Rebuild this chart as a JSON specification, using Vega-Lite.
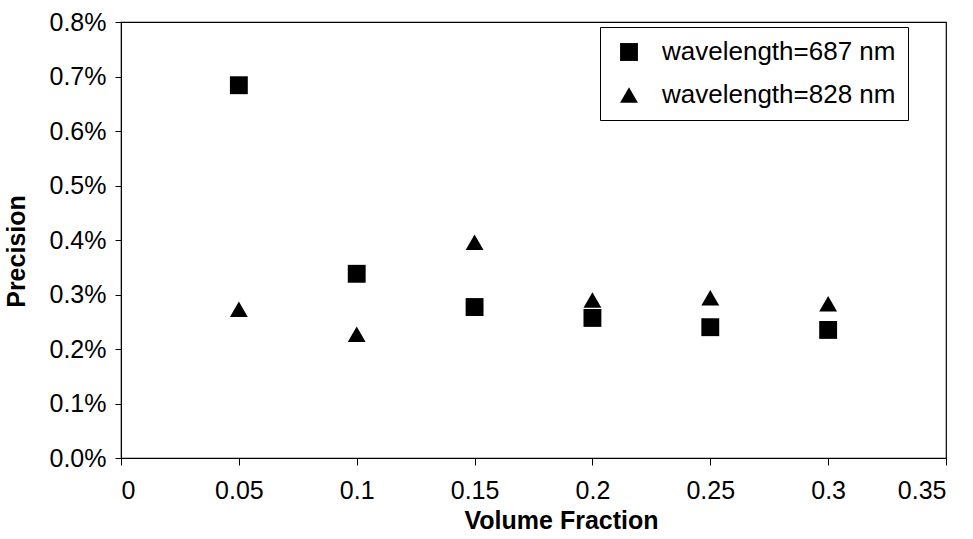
{
  "$schema": "https://vega.github.io/schema/vega-lite/v6.json",
  "autosize": "none",
  "width": 825,
  "height": 436,
  "padding": {"left": 121, "top": 22, "right": 27, "bottom": 81},
  "background": "white",
  "config": {
    "font": "Liberation Sans",
    "view": {"stroke": "black", "strokeWidth": 1.2},
    "axis": {
      "grid": false,
      "domainColor": "black",
      "tickColor": "black",
      "labelColor": "black",
      "titleColor": "black",
      "labelFont": "Liberation Sans",
      "titleFont": "Liberation Sans",
      "labelFontSize": 25,
      "titleFontSize": 25,
      "titleFontWeight": "bold",
      "tickSize": 7
    }
  },
  "data": {
    "values": [
      {"fraction": 0.05, "precision": 0.00684, "series": "wavelength=687 nm"},
      {"fraction": 0.1, "precision": 0.00338, "series": "wavelength=687 nm"},
      {"fraction": 0.15, "precision": 0.00277, "series": "wavelength=687 nm"},
      {"fraction": 0.2, "precision": 0.00257, "series": "wavelength=687 nm"},
      {"fraction": 0.25, "precision": 0.0024, "series": "wavelength=687 nm"},
      {"fraction": 0.3, "precision": 0.00235, "series": "wavelength=687 nm"},
      {"fraction": 0.05, "precision": 0.00273, "series": "wavelength=828 nm"},
      {"fraction": 0.1, "precision": 0.00227, "series": "wavelength=828 nm"},
      {"fraction": 0.15, "precision": 0.00396, "series": "wavelength=828 nm"},
      {"fraction": 0.2, "precision": 0.0029, "series": "wavelength=828 nm"},
      {"fraction": 0.25, "precision": 0.00294, "series": "wavelength=828 nm"},
      {"fraction": 0.3, "precision": 0.00283, "series": "wavelength=828 nm"}
    ]
  },
  "mark": {"type": "point", "filled": true, "color": "black", "opacity": 1, "size": 320},
  "encoding": {
    "x": {
      "field": "fraction",
      "type": "quantitative",
      "scale": {"domain": [0, 0.35], "nice": false, "zero": true},
      "axis": {
        "title": "Volume Fraction",
        "values": [0, 0.05, 0.1, 0.15, 0.2, 0.25, 0.3, 0.35],
        "format": "~g",
        "labelPadding": 13,
        "titleX": 440,
        "titleY": 62,
        "titleBaseline": "middle",
        "titleAlign": "center"
      }
    },
    "y": {
      "field": "precision",
      "type": "quantitative",
      "scale": {"domain": [0, 0.008], "nice": false},
      "axis": {
        "title": "Precision",
        "values": [0, 0.001, 0.002, 0.003, 0.004, 0.005, 0.006, 0.007, 0.008],
        "format": ".1%",
        "tickSize": 6,
        "labelPadding": 9,
        "titleX": -105,
        "titleY": 229,
        "titleBaseline": "middle",
        "titleAlign": "center",
        "titleAngle": -90
      }
    },
    "shape": {
      "field": "series",
      "type": "nominal",
      "scale": {
        "domain": ["wavelength=687 nm", "wavelength=828 nm"],
        "range": ["square", "triangle-up"]
      },
      "legend": {
        "title": null,
        "orient": "none",
        "legendX": 479,
        "legendY": 5,
        "direction": "vertical",
        "strokeColor": "black",
        "fillColor": "white",
        "padding": 12,
        "symbolOffset": 4,
        "symbolSize": 320,
        "symbolFillColor": "black",
        "symbolStrokeColor": "black",
        "symbolStrokeWidth": 0,
        "labelFontSize": 26,
        "labelFont": "Liberation Sans",
        "labelColor": "black",
        "labelOffset": 20,
        "labelLimit": 400,
        "rowPadding": 17
      }
    }
  }
}
